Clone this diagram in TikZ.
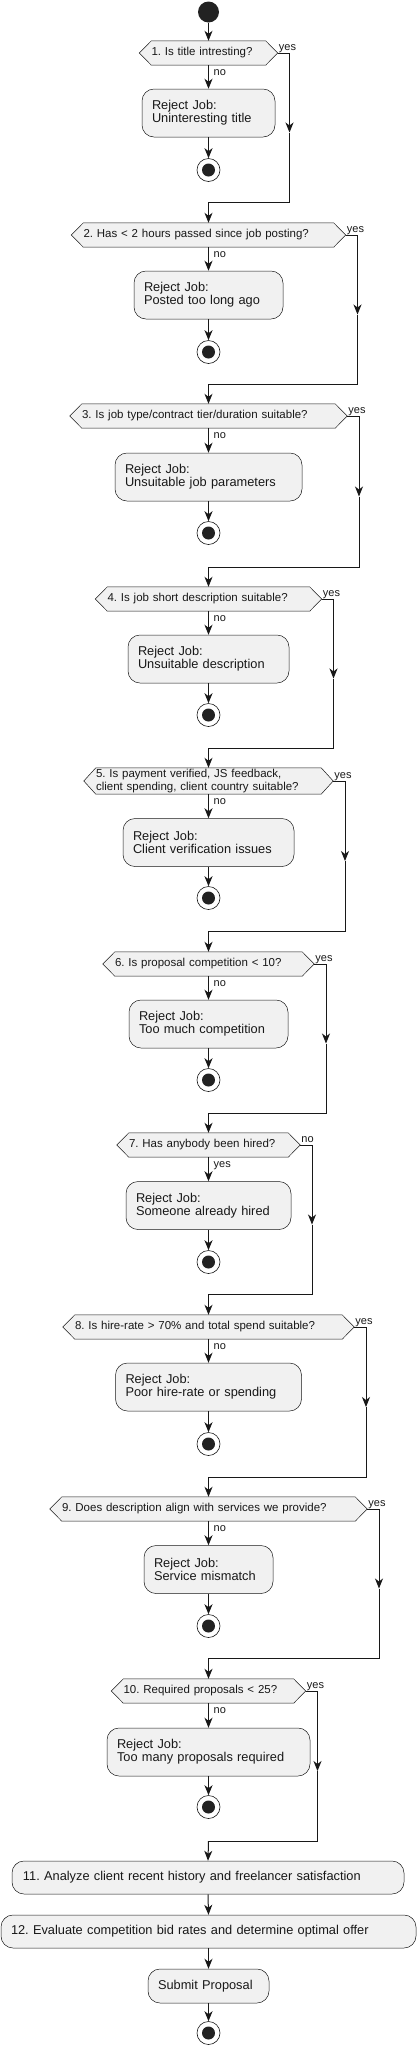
\documentclass[tikz,border=0pt]{standalone}
\usepackage{fontspec}
\setmainfont{Liberation Sans}
\usetikzlibrary{arrows.meta}
\pgfdeclarelayer{bg}
\pgfsetlayers{bg,main}
\definecolor{ink}{HTML}{181818}
\definecolor{boxfill}{HTML}{F1F1F1}
\definecolor{dot}{HTML}{222222}
\frenchspacing
\tikzset{
 flow/.style={draw=ink, line width=1pt, -{Stealth[length=10pt,width=8pt,inset=3pt]}},
 wire/.style={draw=ink, line width=1pt},
 dectext/.style={inner xsep=0pt, inner ysep=0pt, align=left, font=\fontsize{11.5}{13}\selectfont\frenchspacing, text=ink},
 decshape/.style={fill=boxfill, draw=ink, line width=0.5pt},
 rej/.style={rectangle, rounded corners=12pt, fill=boxfill, draw=ink, line width=0.5pt, inner xsep=10pt, inner ysep=0pt, align=left, minimum height=48pt, font=\fontsize{12.8}{13.3}\selectfont\frenchspacing, text=ink},
 act/.style={rectangle, rounded corners=12pt, fill=boxfill, draw=ink, line width=0.5pt, inner xsep=11pt, inner ysep=0pt, align=left, minimum height=33pt, font=\fontsize{12.8}{13.3}\selectfont\frenchspacing, text=ink},
 lbl/.style={font=\fontsize{11}{12}\selectfont, text=ink, inner sep=0pt},
 startc/.style={circle, fill=dot, minimum size=21pt, inner sep=0pt},
 endc/.style={circle, fill=white, draw=ink, line width=0.6pt, minimum size=23pt, inner sep=0pt, path picture={\fill[dot] (path picture bounding box.center) circle (6.5pt);}},
}
\def\decH{24}\def\myR{yes}\def\myD{no}
\newcommand\blk[9]{%
 \node[dectext, text width=#3pt, minimum height=\decH pt] (d#1) at (208.5,#2) {#4};
 \begin{pgfonlayer}{bg}
 \filldraw[decshape] (d#1.north west) -- (d#1.north east) -- ([xshift=12pt]d#1.east) -- (d#1.south east) -- (d#1.south west) -- ([xshift=-12pt]d#1.west) -- cycle;
 \end{pgfonlayer}
 \node[rej, text width=#6pt] (b#1) at (208.5,#5) {Reject Job:\\\mbox{#7}};
 \node[endc] (e#1) at (208.5,#8) {};
 \coordinate (a#1) at ({208.5+#3/2+24},{(#2+#9)/2+5});
 \coordinate (m#1) at (208.5,#9);
 \draw[flow] (d#1.south) -- (b#1.north);
 \draw[flow] (b#1.south) -- (e#1.north);
 \draw[flow] ([xshift=12pt]d#1.east) -| (a#1);
 \draw[wire] (a#1) |- (m#1);
 \node[lbl, anchor=base west] (r#1) at ([xshift=13pt,yshift=3pt]d#1.east) {\myR};
 \node[lbl, anchor=base west] (n#1) at ([xshift=5pt,yshift=-10pt]d#1.south) {\myD};
}
\begin{document}
\begin{tikzpicture}[x=1pt,y=-1pt]
\useasboundingbox (0,0) rectangle (417,2046);
\node[startc] (st) at (208.5,12) {};

\blk{1}{53}{114}{\mbox{1. Is title intresting?}}{113}{113}{Uninteresting title}{170}{202}
\blk{2}{235}{250}{\mbox{2. Has < 2 hours passed since job posting?}}{295}{129}{Posted too long ago}{352}{384}
\blk{3}{416}{253}{\mbox{3. Is job type/contract tier/duration suitable?}}{477}{167}{Unsuitable job parameters}{533}{567}
\blk{4}{599}{202}{\mbox{4. Is job short description suitable?}}{659}{141}{Unsuitable description}{715}{748}
\def\decH{26}
\blk{5}{781}{225}{\mbox{5. Is payment verified, JS feedback,}\\\mbox{client spending, client country suitable?}}{842.5}{151}{Client verification issues}{898}{931}
\def\decH{24}
\blk{6}{964}{187}{\mbox{6. Is proposal competition < 10?}}{1024}{139}{Too much competition}{1080}{1113}
\def\myR{no}\def\myD{yes}
\blk{7}{1145}{159}{\mbox{7. Has anybody been hired?}}{1205.5}{145}{Someone already hired}{1262}{1294}
\def\myR{yes}\def\myD{no}
\blk{8}{1327}{267}{\mbox{8. Is hire-rate > 70\% and total spend suitable?}}{1387}{166}{Poor hire-rate or spending}{1444}{1477}
\blk{9}{1509}{293}{\mbox{9. Does description align with services we provide?}}{1569.5}{109}{Service mismatch}{1626}{1658}
\blk{10}{1691}{170}{\mbox{10. Required proposals < 25?}}{1752}{183}{Too many proposals required}{1807}{1841}

\node[act, text width=370pt] (i11) at (208,1877.5) {\mbox{11. Analyze client recent history and freelancer satisfaction}};
\node[act, inner xsep=10pt, text width=395pt] (i12) at (208.5,1931.5) {\mbox{12. Evaluate competition bid rates and determine optimal offer}};
\node[act, inner xsep=10pt, text width=101pt, minimum height=34pt] (sub) at (208.5,1986) {Submit Proposal};
\node[endc] (fin) at (208.5,2033) {};

\draw[flow] (st) -- (d1.north);
\draw[flow] (m1) -- (d2.north);
\draw[flow] (m2) -- (d3.north);
\draw[flow] (m3) -- (d4.north);
\draw[flow] (m4) -- (d5.north);
\draw[flow] (m5) -- (d6.north);
\draw[flow] (m6) -- (d7.north);
\draw[flow] (m7) -- (d8.north);
\draw[flow] (m8) -- (d9.north);
\draw[flow] (m9) -- (d10.north);
\draw[flow] (m10) -- (i11.north);
\draw[flow] (i11.south) -- (i12.north);
\draw[flow] (i12.south) -- (sub.north);
\draw[flow] (sub.south) -- (fin.north);
\end{tikzpicture}
\end{document}
